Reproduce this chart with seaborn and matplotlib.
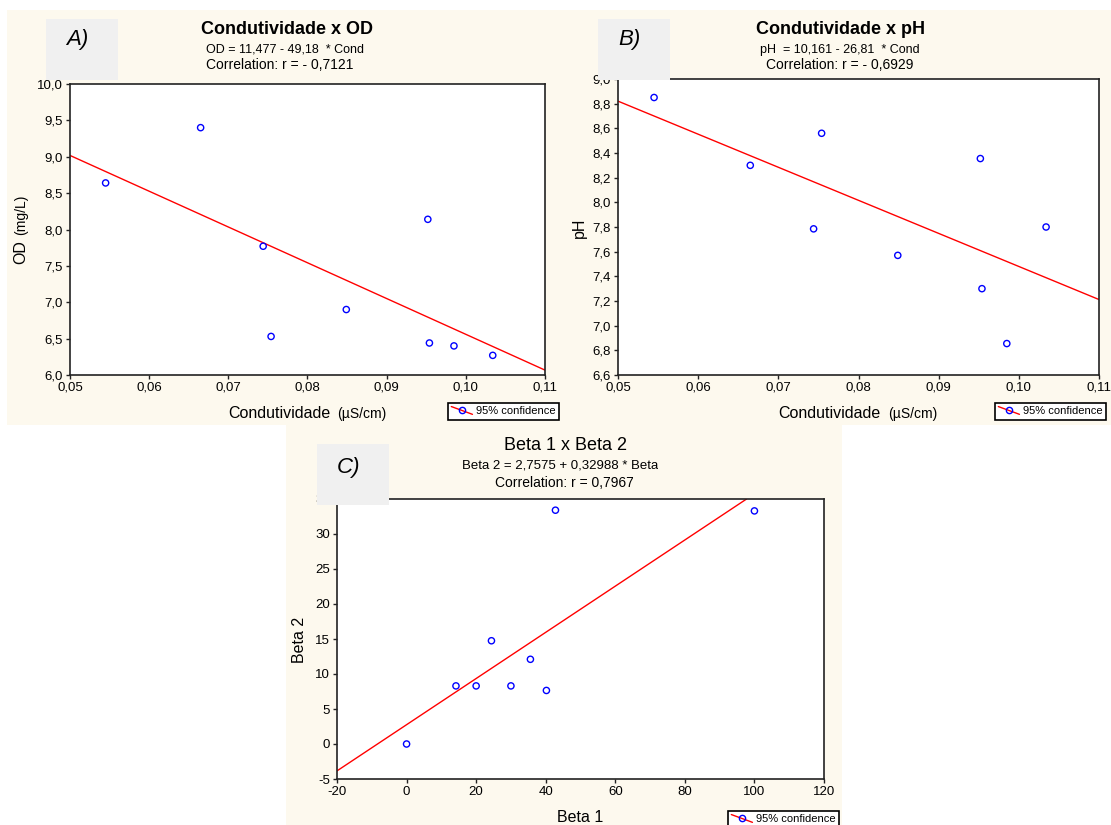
import matplotlib
matplotlib.use("Agg")
import matplotlib.pyplot as plt
import numpy as np
import seaborn as sns
from matplotlib.lines import Line2D
from matplotlib.patches import Rectangle
from matplotlib.legend_handler import HandlerBase
from matplotlib.ticker import FuncFormatter
from matplotlib.transforms import Bbox

# values
cond = [0.0545, 0.0665, 0.0744, 0.0754, 0.0849, 0.0952, 0.0954, 0.0985, 0.1034]
od = [8.64, 9.40, 7.77, 6.53, 6.90, 8.14, 6.44, 6.40, 6.27]
ph = [8.85, 8.30, 7.785, 8.56, 7.57, 8.355, 7.30, 6.855, 7.80]
beta1 = [0, 14.2, 20, 30, 40.2, 24.4, 35.6, 42.8, 100]
beta2 = [0, 8.3, 8.3, 8.3, 7.65, 14.75, 12.1, 33.4, 33.3]

# fitted lines as printed in the subtitles (intercept, slope)
od_fit = (11.477, -49.18)
ph_fit = (10.161, -26.81)
beta_fit = (2.7575, 0.32988)

W, H = 1111, 825
CREAM = "#fdf9ee"
GREY = "#f0f0f0"
INK = "#222222"

sns.set_style("white")
plt.rcParams["font.family"] = ["Liberation Sans", "DejaVu Sans"]
plt.rcParams["text.color"] = "black"
plt.rcParams["xtick.color"] = "black"
plt.rcParams["ytick.color"] = "black"

fig = plt.figure(figsize=(W / 100, H / 100), dpi=100)
fig.patch.set_facecolor("white")


def fx(x):
    return x / W


def fy(y):
    return 1 - y / H


def rect(l, t, r, b, color, z):
    fig.add_artist(Rectangle((fx(l), fy(b)), (r - l) / W, (b - t) / H,
                             transform=fig.transFigure, facecolor=color,
                             edgecolor="none", zorder=z))


def text(x, y, s, **kw):
    kw.setdefault("ha", "center")
    kw.setdefault("va", "center")
    return fig.text(fx(x), fy(y), s, **kw)


def comma(fmt):
    return FuncFormatter(lambda v, p: (fmt % v).replace(".", ","))


def panel(l, t, r, b):
    ax = fig.add_axes([fx(l), fy(b), (r - l) / W, (b - t) / H])
    ax.set_facecolor("white")
    for s in ax.spines.values():
        s.set_color(INK)
        s.set_linewidth(1.2)
    ax.tick_params(direction="out", length=3, width=1, color=INK,
                   labelcolor="black", labelsize=9.5, pad=2,
                   bottom=True, left=True)
    return ax


def points(ax, x, y, fit):
    sns.scatterplot(x=x, y=y, ax=ax, marker="o", s=20, facecolor="none",
                    edgecolor="blue", linewidth=1, zorder=3)
    ax.axline((0, fit[0]), slope=fit[1], color="red", lw=1, zorder=2)
    ax.set_xlabel("")
    ax.set_ylabel("")


class ConfHandler(HandlerBase):
    def create_artists(self, legend, orig, xd, yd, w, h, fs, trans):
        ln = Line2D([-xd, -xd + w], [-yd + h, -yd], color="red", lw=1,
                    transform=trans)
        mk = Line2D([-xd + w / 2], [-yd + h / 2], marker="o", ms=4.5,
                    mfc="none", mec="blue", mew=1, ls="none", transform=trans)
        return [ln, mk]


def conf_legend(l, t):
    h = Line2D([], [])
    leg = fig.legend([h], ["95% confidence"], handler_map={h: ConfHandler()},
                     loc="upper left", bbox_to_anchor=(fx(l), fy(t)),
                     borderaxespad=0, fancybox=False, framealpha=1,
                     edgecolor="black", facecolor="white", fontsize=8,
                     handlelength=1.9, handletextpad=0.3, borderpad=0.3)
    leg.get_frame().set_linewidth(1.2)


# background areas
rect(7, 10, W, 425, CREAM, -2)
rect(286, 425, 842, H, CREAM, -2)

# ---- panel A
axA = panel(70, 84, 545, 375)
points(axA, cond, od, od_fit)
axA.set_xlim(0.05, 0.11)
axA.set_ylim(6.0, 10.0)
axA.set_xticks(np.round(np.arange(0.05, 0.1101, 0.01), 2))
axA.set_yticks(np.round(np.arange(6.0, 10.01, 0.5), 1))
axA.xaxis.set_major_formatter(comma("%.2f"))
axA.yaxis.set_major_formatter(comma("%.1f"))

# ---- panel B
axB = panel(618, 79, 1099, 375)
points(axB, cond, ph, ph_fit)
axB.set_xlim(0.05, 0.11)
axB.set_ylim(6.6, 9.0)
axB.set_xticks(np.round(np.arange(0.05, 0.1101, 0.01), 2))
axB.set_yticks(np.round(np.arange(6.6, 9.01, 0.2), 1))
axB.xaxis.set_major_formatter(comma("%.2f"))
axB.yaxis.set_major_formatter(comma("%.1f"))

# ---- panel C
axC = panel(337, 499, 824, 779)
points(axC, beta1, beta2, beta_fit)
axC.set_xlim(-20, 120)
axC.set_ylim(-5, 35)
axC.set_xticks(np.arange(-20, 121, 20))
axC.set_yticks(np.arange(-5, 36, 5))
axC.xaxis.set_major_formatter(comma("%d"))
axC.yaxis.set_major_formatter(comma("%d"))

# titles and equations
text(287, 29, "Condutividade x OD", fontsize=13, fontweight="bold")
text(285, 50, "OD = 11,477 - 49,18  * Cond", fontsize=9)
text(280, 65, "Correlation: r = - 0,7121", fontsize=10)

text(840, 29, "Condutividade x pH", fontsize=13, fontweight="bold")
text(840, 50, "pH  = 10,161 - 26,81  * Cond", fontsize=9)
text(840, 65, "Correlation: r = - 0,6929", fontsize=10)

text(565, 445, "Beta 1 x Beta 2", fontsize=13)
t1 = text(462, 465, "Beta 2 = 2,7575 + 0,32988 * Beta 1", fontsize=9.5, ha="left")
t1.set_clip_box(Bbox([[0, 0], [658, H]]))
t1.set_clip_on(True)
t2 = text(495, 483, "Correlation: r = 0,79678", fontsize=10, ha="left")
t2.set_clip_box(Bbox([[0, 0], [633, H]]))
t2.set_clip_on(True)

# axis labels
text(228, 418, "Condutividade", fontsize=11.5, ha="left", va="baseline")
text(337, 418, "(\u00b5S/cm)", fontsize=10, ha="left", va="baseline")
text(778, 418, "Condutividade", fontsize=11.5, ha="left", va="baseline")
text(888, 418, "(\u00b5S/cm)", fontsize=10, ha="left", va="baseline")
text(21, 264, "OD", fontsize=11.5, rotation=90, va="bottom")
text(21, 195, "(mg/L)", fontsize=10, rotation=90, va="top")
text(579, 228, "pH", fontsize=11.5, rotation=90)
text(299, 640, "Beta 2", fontsize=11.5, rotation=90)
text(580, 817, "Beta 1", fontsize=11.5)

# panel letters in grey boxes
rect(46, 19, 118, 80, GREY, 5)
text(77, 40, "A)", fontsize=16, fontstyle="italic", zorder=6)
rect(598, 19, 670, 80, GREY, 5)
text(629, 40, "B)", fontsize=16, fontstyle="italic", zorder=6)
rect(317, 444, 389, 505, GREY, 5)
text(349, 467, "C)", fontsize=16, fontstyle="italic", zorder=6)

conf_legend(448, 403)
conf_legend(995, 403)
conf_legend(728, 811)

fig.savefig("out.png", dpi=100)
